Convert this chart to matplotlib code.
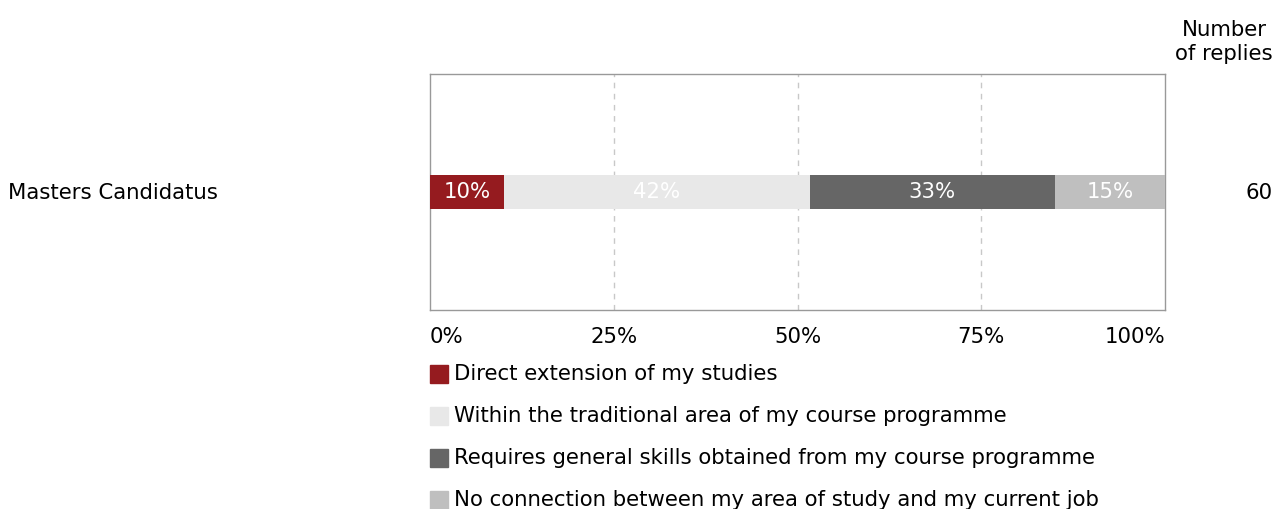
import matplotlib.pyplot as plt
from matplotlib.patches import Rectangle

# data
category = "Masters Candidatus"
n_replies = 60
labels = [
    "Direct extension of my studies",
    "Within the traditional area of my course programme",
    "Requires general skills obtained from my course programme",
    "No connection between my area of study and my current job",
]
shares = [10.0, 41.7, 33.3, 15.0]
colors = ["#951b1f", "#e8e8e8", "#666666", "#bfbfbf"]
ticks = [0, 25, 50, 75, 100]

plt.rcParams["font.family"] = "DejaVu Sans"
fs = 15.3

W, H = 1276, 509
fig = plt.figure(figsize=(W / 100, H / 100), dpi=100)
ax = fig.add_axes([430 / W, 1 - 310 / H, 735 / W, 236 / H])

left = 0
for v, c in zip(shares, colors):
    ax.barh(0, v, left=left, height=0.28, color=c, zorder=3)
    ax.text(left + v / 2, 0, f"{v:.0f}%", ha="center", va="center",
            color="white", fontsize=fs, zorder=4)
    left += v

ax.set_xlim(0, 100)
ax.set_ylim(-1, 1)
ax.set_yticks([])
ax.set_xticks(ticks)
ax.set_xticklabels([f"{t}%" for t in ticks], fontsize=fs)
ax.get_xticklabels()[0].set_ha("left")
ax.get_xticklabels()[-1].set_ha("right")
ax.tick_params(axis="x", length=0, pad=12, colors="#000000")
for t in ticks[1:-1]:
    ax.axvline(t, color="#c8c8c8", linestyle=(0, (4, 4)), linewidth=1, zorder=1)
for s in ax.spines.values():
    s.set_color("#999999")
    s.set_linewidth(1)

fig.text(8 / W, 1 - 193 / H, category, ha="left", va="center", fontsize=fs)
fig.text(1273 / W, 1 - 193 / H, str(n_replies), ha="right", va="center", fontsize=fs)
fig.text(1273 / W, 1 - 42 / H, "Number\nof replies", ha="right", va="center",
         multialignment="center", fontsize=fs, linespacing=1.2)

# legend
for i, (lab, c) in enumerate(zip(labels, colors)):
    y = 374 + 42 * i
    fig.patches.append(Rectangle((430 / W, 1 - (y + 9) / H), 18 / W, 18 / H,
                                 transform=fig.transFigure, color=c))
    fig.text(454 / W, 1 - y / H, lab, ha="left", va="center", fontsize=fs)

fig.savefig("out.png", dpi=100)
